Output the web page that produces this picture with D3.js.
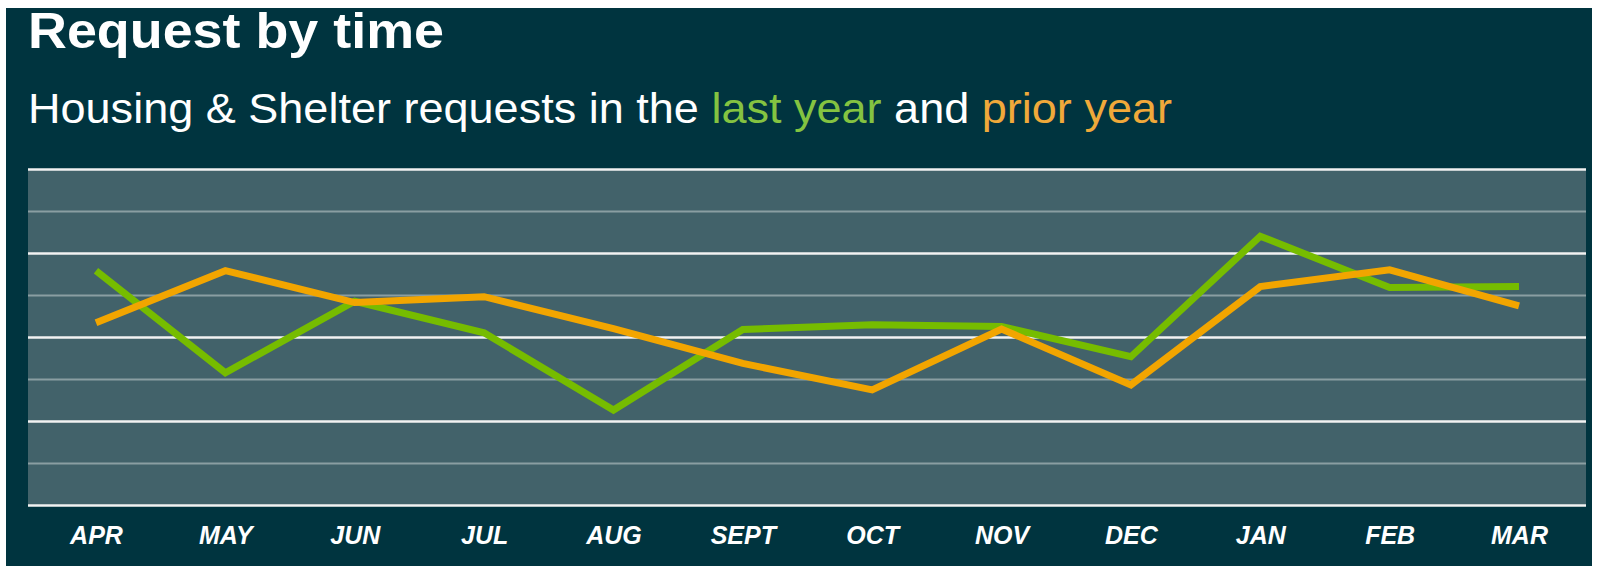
<!DOCTYPE html>
<html>
<head>
<meta charset="utf-8">
<script src="https://cdn.jsdelivr.net/npm/d3@7"></script>
<style>
  body { margin: 0; background: #fff; }
  svg { display: block; }
  text { font-family: "Liberation Sans", Arial, sans-serif; }
</style>
</head>
<body>
<script>

const months = ["APR", "MAY", "JUN", "JUL", "AUG", "SEPT", "OCT", "NOV", "DEC", "JAN", "FEB", "MAR"];
const lastYear = [55.8, 31.5, 48.5, 41.0, 22.6, 41.8, 42.9, 42.5, 35.3, 64.0, 51.8, 52.0];
const priorYear = [43.4, 55.8, 48.2, 49.6, 42.0, 33.7, 27.4, 41.9, 28.6, 52.0, 56.0, 47.4];
const gridTicks = [0, 10, 20, 30, 40, 50, 60, 70, 80];

const W = 1601;
const H = 566;
const plot = {left: 28, right: 1586, top: 169, bottom: 505};

const svg = d3.select("body")
.append("svg")
.attr("width", W)
.attr("height", H);

// dark panel
svg.append("rect")
.attr("x", 6)
.attr("y", 8)
.attr("width", 1586)
.attr("height", H - 8)
.attr("fill", "#00343f");

svg.append("rect")
.attr("x", plot.left)
.attr("y", plot.top)
.attr("width", plot.right - plot.left)
.attr("height", plot.bottom - plot.top)
.attr("fill", "#42626a");

const xScale = d3.scalePoint()
.domain(months)
.range([96, 1519]);

const yScale = d3.scaleLinear()
.domain([0, 80])
.range([plot.bottom, plot.top]);

// grid lines, alternating white / grey
const grid = svg.append("g")
.attr("transform", `translate(${plot.left},0)`)
.call(d3.axisLeft(yScale).tickValues(gridTicks).tickSize(-(plot.right - plot.left)).tickFormat(""));
grid.select(".domain").remove();
grid.selectAll(".tick line")
.attr("stroke", (d) => d % 20 == 0 ? "#f2f2f2" : "#8a9ea2")
.attr("stroke-width", (d) => d % 20 == 0 ? 2.6 : 2);

const xAxis = svg.append("g")
.attr("transform", `translate(0,${plot.bottom})`)
.call(d3.axisBottom(xScale).tickSize(0).tickPadding(0));
xAxis.select(".domain").remove();
xAxis.selectAll("text")
.attr("y", 39)
.attr("dy", 0)
.attr("fill", "#fff")
.style("font-size", "25px")
.style("font-style", "italic")
.style("font-weight", "bold")
.style("font-family", "'Liberation Sans', Arial, sans-serif");

const line = d3.line()
.x((d, i) => xScale(months[i]))
.y((d) => yScale(d));

svg.append("path")
.datum(lastYear)
.attr("d", line)
.attr("fill", "none")
.attr("stroke", "#76bc00")
.attr("stroke-width", 7);

svg.append("path")
.datum(priorYear)
.attr("d", line)
.attr("fill", "none")
.attr("stroke", "#f2a500")
.attr("stroke-width", 7);

svg.append("text")
.text("Request by time")
.attr("x", 28)
.attr("y", 48)
.attr("fill", "#fff")
.attr("textLength", 416)
.attr("lengthAdjust", "spacingAndGlyphs")
.style("font-size", "50px")
.style("font-weight", "bold");

const sub = svg.append("text")
.attr("x", 28)
.attr("y", 123)
.attr("fill", "#fff")
.attr("textLength", 1144)
.attr("lengthAdjust", "spacingAndGlyphs")
.style("font-size", "43px");
sub.append("tspan").text("Housing & Shelter requests in the ");
sub.append("tspan").text("last year").attr("fill", "#84c341");
sub.append("tspan").text(" and ");
sub.append("tspan").text("prior year").attr("fill", "#f0a93a");

</script>
</body>
</html>
